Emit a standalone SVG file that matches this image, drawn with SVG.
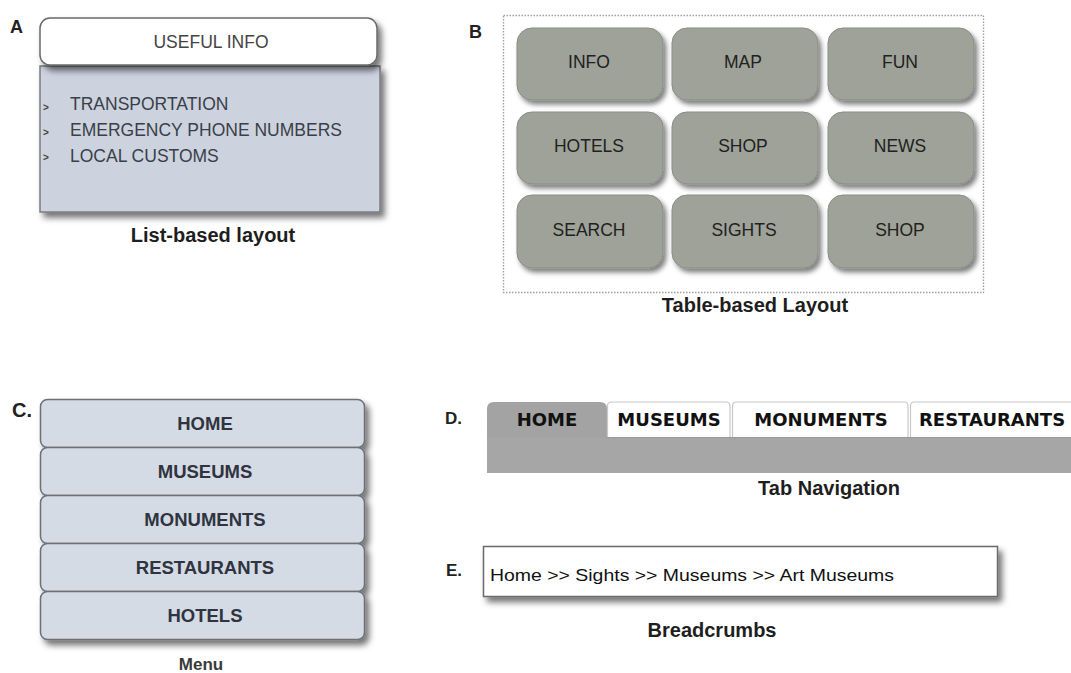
<svg xmlns="http://www.w3.org/2000/svg" width="1071" height="673" viewBox="0 0 1071 673">
<defs>
<filter id="sh" x="-10%" y="-10%" width="130%" height="140%">
<feDropShadow dx="4" dy="5" stdDeviation="3" flood-color="#000" flood-opacity="0.55"/>
</filter>
<filter id="shs" x="-10%" y="-10%" width="130%" height="140%">
<feDropShadow dx="3" dy="4" stdDeviation="2.5" flood-color="#000" flood-opacity="0.5"/>
</filter>
</defs>
<style>
.lbl{font-family:"Liberation Sans",Arial,sans-serif;font-weight:bold;font-size:18px;fill:#222}
.cap{font-family:"Liberation Sans",Arial,sans-serif;font-weight:bold;font-size:20px;fill:#1e1e1e;text-anchor:middle}
.li{font-family:"Liberation Sans",Arial,sans-serif;font-size:17.5px;fill:#3a3f48}
.btn{fill:#9ea298;stroke:#8a8d85;stroke-width:1}
.bt{font-family:"Liberation Sans",Arial,sans-serif;font-size:17.5px;fill:#1f211e;text-anchor:middle}
.mi{fill:#d4dbe5;stroke:#6e7074;stroke-width:1.5}
.mt{font-family:"Liberation Sans",Arial,sans-serif;font-weight:bold;font-size:18.5px;fill:#2f3440;text-anchor:middle}
.tt{font-family:"DejaVu Sans",Verdana,sans-serif;font-weight:bold;font-size:18px;fill:#111}
.tab{fill:#fff;stroke:#c8c8c8;stroke-width:1.2}
</style>
<rect width="1071" height="673" fill="#fff"/>

<g id="panelA">
<text class="lbl" x="10" y="33">A</text>
<g filter="url(#sh)">
<rect x="40" y="66" width="340" height="146" fill="#ccd3df" stroke="#7a7c80" stroke-width="1.5"/>
</g>
<rect x="40" y="18" width="337" height="47" rx="10" fill="#fff" stroke="#6a6a6a" stroke-width="1.5" filter="url(#sh)"/>
<text x="211" y="48" class="li" text-anchor="middle" style="fill:#444">USEFUL INFO</text>
<text x="43" y="111" font-family="Liberation Sans,sans-serif" font-size="10" font-weight="bold" fill="#444">&gt;</text>
<text x="43" y="136" font-family="Liberation Sans,sans-serif" font-size="10" font-weight="bold" fill="#444">&gt;</text>
<text x="43" y="161" font-family="Liberation Sans,sans-serif" font-size="10" font-weight="bold" fill="#444">&gt;</text>
<text class="li" x="70" y="110">TRANSPORTATION</text>
<text class="li" x="70" y="136">EMERGENCY PHONE NUMBERS</text>
<text class="li" x="70" y="162">LOCAL CUSTOMS</text>
<text class="cap" x="213" y="242">List-based layout</text>
</g>

<g id="panelB">
<text class="lbl" x="469" y="38">B</text>
<rect x="503.5" y="15.5" width="480" height="277" fill="none" stroke="#a0a0a0" stroke-width="1.4" stroke-dasharray="1.5 1.5"/>
<g id="b-info"><rect class="btn" x="517" y="28" width="146" height="72" rx="15" filter="url(#shs)"/><text class="bt" x="589" y="68">INFO</text></g>
<g id="b-map"><rect class="btn" x="672" y="28" width="146" height="72" rx="15" filter="url(#shs)"/><text class="bt" x="743" y="68">MAP</text></g>
<g id="b-fun"><rect class="btn" x="828" y="28" width="146" height="72" rx="15" filter="url(#shs)"/><text class="bt" x="900" y="68">FUN</text></g>
<g id="b-hotels"><rect class="btn" x="517" y="112" width="146" height="72" rx="15" filter="url(#shs)"/><text class="bt" x="589" y="152">HOTELS</text></g>
<g id="b-shop1"><rect class="btn" x="672" y="112" width="146" height="72" rx="15" filter="url(#shs)"/><text class="bt" x="743" y="152">SHOP</text></g>
<g id="b-news"><rect class="btn" x="828" y="112" width="146" height="72" rx="15" filter="url(#shs)"/><text class="bt" x="900" y="152">NEWS</text></g>
<g id="b-search"><rect class="btn" x="517" y="195" width="146" height="73" rx="15" filter="url(#shs)"/><text class="bt" x="589" y="236">SEARCH</text></g>
<g id="b-sights"><rect class="btn" x="672" y="195" width="146" height="73" rx="15" filter="url(#shs)"/><text class="bt" x="744" y="236">SIGHTS</text></g>
<g id="b-shop2"><rect class="btn" x="828" y="195" width="146" height="73" rx="15" filter="url(#shs)"/><text class="bt" x="900" y="236">SHOP</text></g>
<text class="cap" x="755" y="312">Table-based Layout</text>
</g>

<g id="panelC">
<text class="lbl" x="12" y="417" style="font-size:20px">C.</text>
<g filter="url(#sh)">
<rect class="mi" x="40.5" y="399.5" width="324" height="48" rx="7"/>
<rect class="mi" x="40.5" y="447.5" width="324" height="48" rx="7"/>
<rect class="mi" x="40.5" y="495.5" width="324" height="48" rx="7"/>
<rect class="mi" x="40.5" y="543.5" width="324" height="48" rx="7"/>
<rect class="mi" x="40.5" y="591.5" width="324" height="48" rx="7"/>
</g>
<g id="m-home"><text class="mt" x="205" y="430">HOME</text></g>
<g id="m-museums"><text class="mt" x="205" y="478">MUSEUMS</text></g>
<g id="m-monuments"><text class="mt" x="205" y="526">MONUMENTS</text></g>
<g id="m-restaurants"><text class="mt" x="205" y="574">RESTAURANTS</text></g>
<g id="m-hotels"><text class="mt" x="205" y="622">HOTELS</text></g>
<text x="201" y="670" font-family="Liberation Sans,Arial,sans-serif" font-size="17" font-weight="bold" fill="#3a3a3a" text-anchor="middle">Menu</text>
</g>

<g id="panelD">
<text class="lbl" x="445" y="424" style="font-size:17px">D.</text>
<rect x="487" y="437" width="590" height="36" fill="#a6a6a6"/>
<line x1="487" y1="437.5" x2="1071" y2="437.5" stroke="#9a9a9a" stroke-width="1"/>
<g id="t-home"><path d="M487,438 V409 Q487,402 494,402 H600 Q607,402 607,409 V438 Z" fill="#a3a3a3"/><text class="tt" x="547" y="426" text-anchor="middle">HOME</text></g>
<g id="t-museums"><path class="tab" d="M607.5,437 V406 Q607.5,402 611.5,402 H726 Q730,402 730,406 V437"/><text class="tt" x="669" y="426" text-anchor="middle">MUSEUMS</text></g>
<g id="t-monuments"><path class="tab" d="M732.5,437 V406 Q732.5,402 736.5,402 H904 Q908,402 908,406 V437"/><text class="tt" x="821" y="426" text-anchor="middle">MONUMENTS</text></g>
<g id="t-restaurants"><path class="tab" d="M910.5,437 V406 Q910.5,402 914.5,402 H1075"/><text class="tt" x="919" y="426" text-anchor="start">RESTAURANTS</text></g>
<text class="cap" x="829" y="495">Tab Navigation</text>
</g>

<g id="panelE">
<text class="lbl" x="446" y="576" style="font-size:17px">E.</text>
<rect x="483.5" y="546.5" width="514" height="50" fill="#fff" stroke="#6a6a6a" stroke-width="1.5" filter="url(#sh)"/>
<text x="490" y="581" font-family="Liberation Sans,Arial,sans-serif" font-size="17" fill="#111" textLength="404" lengthAdjust="spacingAndGlyphs">Home &gt;&gt; Sights &gt;&gt; Museums &gt;&gt; Art Museums</text>
<text class="cap" x="712" y="637">Breadcrumbs</text>
</g>
</svg>
